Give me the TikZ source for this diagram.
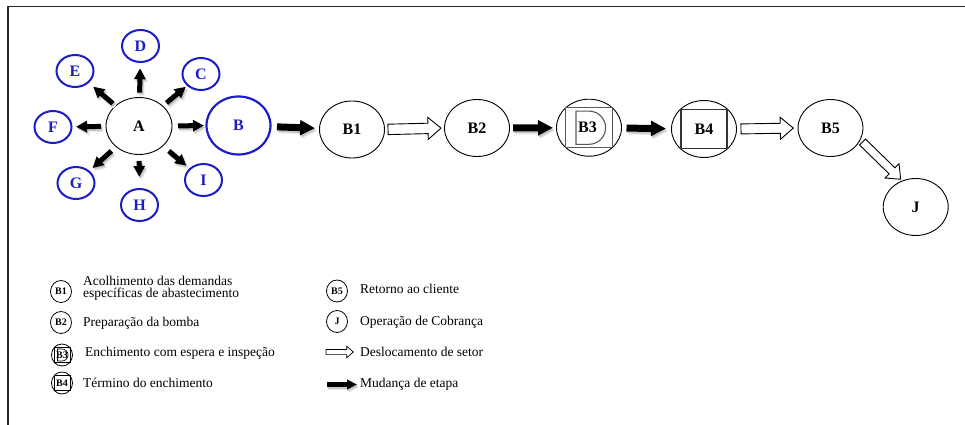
\documentclass[tikz,border=0pt]{standalone}
\usepackage{fontspec}
\setmainfont{Liberation Serif}
\usetikzlibrary{arrows.meta,calc,shapes.geometric}

\definecolor{nodeblue}{RGB}{28,28,200}

\tikzset{
  stage/.style={ellipse, draw=black, line width=0.9pt, inner sep=0pt, outer sep=0pt,
    minimum width=65pt, minimum height=57pt, font=\fontsize{16}{18}\selectfont\bfseries},
  branch/.style={ellipse, draw=nodeblue, text=nodeblue, line width=2pt, inner sep=0pt, outer sep=0pt,
    minimum width=37pt, minimum height=32pt, font=\fontsize{16}{18}\selectfont\bfseries},
  keyicon/.style={ellipse, draw=black, line width=0.8pt, inner sep=0pt, outer sep=0pt,
    minimum width=21pt, minimum height=22pt, font=\fontsize{10}{11}\selectfont\bfseries},
  keytext/.style={anchor=base west, inner sep=0pt, font=\fontsize{13.5}{12.5}\selectfont},
  spoke/.style={line width=5pt, -{Triangle[length=11pt,width=11pt]}},
  stepline/.style={line width=7pt, -{Triangle[length=15pt,width=14.5pt]}},
  keystep/.style={line width=5pt, -{Triangle[length=10pt,width=9.5pt]}},
  hollow/.style={draw=black, line width=0.9pt, fill=white, line join=miter},
  inset/.style={draw=black!65, line width=1.1pt},
}

% solid arrow with a soft grey drop shadow: #1 style, #2 from, #3 to
\newcommand\shadowlink[3]{%
  \draw[#1, color=black!9, transform canvas={shift={(2.2pt,-3pt)}}] (#2) -- (#3);
  \draw[#1, color=black!22, transform canvas={shift={(1.2pt,-1.8pt)}}] (#2) -- (#3);
  \draw[#1] (#2) -- (#3);
}

% outlined block arrow:
% [#1 options] #2 from, #3 to, #4 gap at start, #5 gap at end,
% #6 shaft half width, #7 head half width, #8 head length
\newcommand\hollowarrow[8][]{%
  \draw[hollow,#1] let \p1=(#2), \p2=(#3),
      \n1={atan2(\y2-\y1,\x2-\x1)}, \n2={veclen(\x2-\x1,\y2-\y1)} in
    [shift={(\p1)}, rotate=\n1]
    (#4pt,#6pt) -- ({\n2-#5pt-#8pt},#6pt) -- ({\n2-#5pt-#8pt},#7pt)
    -- ({\n2-#5pt},0pt) -- ({\n2-#5pt-#8pt},-#7pt) -- ({\n2-#5pt-#8pt},-#6pt)
    -- (#4pt,-#6pt) -- cycle;
}

\begin{document}
\begin{tikzpicture}[x=1pt,y=-1pt]
\useasboundingbox (0,0) rectangle (965,425);

% open frame
\draw[line width=1.3pt, black!85] (8,425) -- (8,6.7) -- (965,6.7);

% central node and its branches
\node[stage, minimum width=66pt] (A) at (139,126) {A};
\node[branch, minimum width=64pt, minimum height=58pt, line width=2.2pt] (B) at (238.5,125.5) {B};
\node[branch] (D) at (140.5,46) {D};
\node[branch] (E) at (75,71) {E};
\node[branch] (C) at (201,74) {C};
\node[branch] (F) at (53,127) {F};
\node[branch] (G) at (76,183) {G};
\node[branch] (H) at (139.5,205) {H};
\node[branch] (I) at (203.5,180) {I};

% process chain
\node[stage] (B1) at (352,129.5) {B1};
\node[stage] (B2) at (477,128) {B2};
\node[stage] (B3) at (589,127.7) {};
\node[stage] (B4) at (704,129) {};
\node[stage] (B5) at (830.5,128) {B5};
\node[stage] (J) at (915.7,207) {J};

% B3: inscribed frame with a D-shaped mark
\begin{scope}[shift={(B3.center)}]
  \draw[inset] (-23.8,-19.8) rectangle (23.8,19.8);
  \draw[inset] (-13,-16.6) -- (0,-16.6)
    .. controls (9.16,-16.6) and (16.6,-9.16) .. (16.6,0)
    .. controls (16.6,9.16) and (9.16,16.6) .. (0,16.6) -- (-13,16.6) -- cycle;
\end{scope}
\node[font=\fontsize{16}{18}\selectfont\bfseries, inner sep=0pt] (B3t) at ($(B3)+(-1.5,0)$) {B3};

% B4: inscribed frame
\begin{scope}[shift={(B4.center)}]
  \draw[inset, draw=black!80] (-23,-19.7) rectangle (23,19.7);
\end{scope}
\node[font=\fontsize{16}{18}\selectfont\bfseries, inner sep=0pt] (B4t) at (B4) {B4};

% spokes out of A
\shadowlink{spoke, shorten <=4.8pt, shorten >=6.3pt}{A}{D}
\shadowlink{spoke, shorten <=3.6pt, shorten >=6.7pt}{A}{E}
\shadowlink{spoke, shorten <=5pt, shorten >=2.5pt}{A}{C}
\shadowlink{spoke, shorten <=5pt, shorten >=4.5pt}{A}{F}
\shadowlink{spoke, shorten <=6.5pt, shorten >=5pt}{A}{G}
\shadowlink{spoke, shorten <=6.5pt, shorten >=12pt}{A}{H}
\shadowlink{spoke, shorten <=8pt, shorten >=5pt}{A}{I}
\shadowlink{spoke, shorten <=6pt, shorten >=2.5pt}{A}{B}

% stage changes
\shadowlink{stepline, shorten <=6.5pt, shorten >=4.5pt}{B}{B1}
\shadowlink{stepline, shorten <=3.5pt, shorten >=3.5pt}{B2}{B3}
\shadowlink{stepline, shorten <=5pt, shorten >=5.5pt}{B3}{B4}

% sector moves
\hollowarrow{B1.east}{B2.west}{3.5}{3.5}{5.2}{11}{13}
\hollowarrow{B4.east}{B5.west}{4.5}{4.7}{5}{11}{13}
\coordinate (b5out) at ($(B5)+(32,14)$);
\coordinate (jin) at ($(J)+(-15,-27.7)$);
\hollowarrow{b5out}{jin}{0}{0}{4.2}{10}{12}

% key, left column
\node[keyicon] (k1) at (61,291.5) {B1};
\node[keytext, anchor=north west, align=left] (k1t) at (83,275.5)
  {Acolhimento das demandas\\específicas de abastecimento};
\node[keyicon] (k2) at (61,322.5) {B2};
\node[keytext] (k2t) at (83,326.5) {Preparação da bomba};
\node[keyicon] (k3) at (62,355) {};
\begin{scope}[shift={(k3.center)}]
  \draw[line width=0.7pt] (-8,-7.4) rectangle (8,7.4);
\end{scope}
\node[font=\fontsize{10}{11}\selectfont\bfseries, inner sep=0pt] (k3l) at (k3) {B3};
\begin{scope}[shift={(k3.center)}]
  \draw[line width=0.6pt] (-4.5,-6) -- (0,-6)
    .. controls (3.3,-6) and (6,-3.3) .. (6,0)
    .. controls (6,3.3) and (3.3,6) .. (0,6) -- (-4.5,6) -- cycle;
\end{scope}
\node[keytext] (k3t) at (85,356) {Enchimento com espera e inspeção};
\node[keyicon] (k4) at (62,383) {};
\begin{scope}[shift={(k4.center)}]
  \draw[line width=0.7pt] (-8,-7.2) rectangle (8,7.2);
\end{scope}
\node[font=\fontsize{10}{11}\selectfont\bfseries, inner sep=0pt] (k4l) at (k4) {B4};
\node[keytext] (k4t) at (83,387.5) {Término do enchimento};

% key, right column
\node[keyicon] (k5) at (337,291) {B5};
\node[keytext] (k5t) at (360,293.8) {Retorno ao cliente};
\node[keyicon] (k6) at (337,321.5) {J};
\node[keytext] (k6t) at (360,325) {Operação de Cobrança};
\coordinate (kw-s) at (326,352);
\coordinate (kw-e) at (353.3,352);
\hollowarrow[line width=0.7pt]{kw-s}{kw-e}{0}{0}{2.6}{5.7}{6.5}
\node[keytext] (k7t) at (360,356.5) {Deslocamento de setor};
\coordinate (kb-s) at (327,384.5);
\coordinate (kb-e) at (357,384.5);
\shadowlink{keystep}{kb-s}{kb-e}
\node[keytext] (k8t) at (360,387.5) {Mudança de etapa};
\end{tikzpicture}
\end{document}
